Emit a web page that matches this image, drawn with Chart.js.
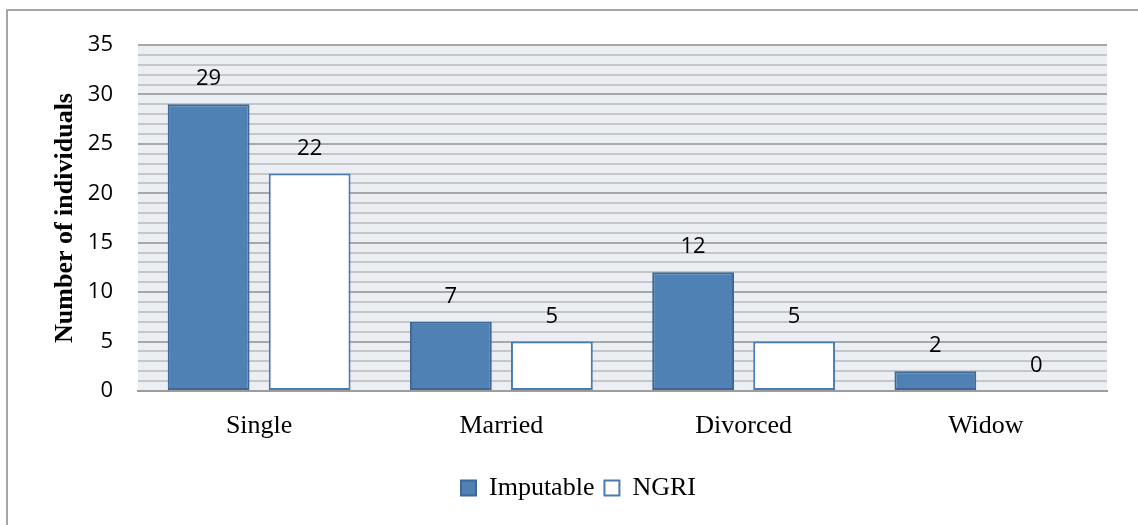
<!DOCTYPE html>
<html>
<head>
<meta charset="utf-8">
<script src="https://cdn.jsdelivr.net/npm/chart.js@4.4.0/dist/chart.umd.min.js"></script>
<style>
  html, body { margin: 0; padding: 0; background: #fff; overflow: hidden; }
  #frame { position: absolute; left: 6px; top: 9px; width: 1300px; height: 700px; border-left: 2px solid #a6a6a6; border-top: 2px solid #a6a6a6; }
  #wrap { position: absolute; left: 0; top: 0; width: 1138px; height: 525px; }
</style>
</head>
<body>
<div id="frame"></div>
<div id="wrap"><canvas id="grafico"></canvas></div>
<script>
// Dados
var categorias = ['Single', 'Married', 'Divorced', 'Widow']
var imputable = [29, 7, 12, 2]
var ngri = [22, 5, 5, 0]
var yMax = 35

// fundo cinza da área do gráfico
var fundoPlugin = {
    id: 'fundo',
    beforeDraw(chart) {
        let a = chart.chartArea
        let ctx = chart.ctx
        ctx.save()
        ctx.fillStyle = '#ebeef3'
        ctx.fillRect(a.left, a.top, a.right - a.left, a.bottom - a.top)
        ctx.restore()
    }
}

// rótulos com os valores acima das barras
var rotulosPlugin = {
    id: 'rotulos',
    afterDatasetsDraw(chart) {
        let ctx = chart.ctx
        ctx.save()
        ctx.font = '22px "Open Sans"'
        ctx.fillStyle = '#000'
        ctx.textAlign = 'center'
        ctx.textBaseline = 'alphabetic'
        chart.data.datasets.forEach((ds, i) => {
            chart.getDatasetMeta(i).data.forEach((bar, j) => {
                ctx.fillText(ds.data[j], bar.x, bar.y - 19)
            })
        })
        ctx.restore()
    }
}

var chart = new Chart(document.getElementById('grafico').getContext('2d'), {
    type: 'bar',
    data: {
        labels: categorias,
        datasets: [{
            label: 'Imputable',
            data: imputable,
            backgroundColor: '#5081b5',
            borderColor: '#3c6897',
            borderWidth: 2,
            borderSkipped: false
        }, {
            label: 'NGRI',
            data: ngri,
            backgroundColor: '#ffffff',
            borderColor: '#4a7bb0',
            borderWidth: 2,
            borderSkipped: false
        }]
    },
    options: {
        responsive: true,
        maintainAspectRatio: false,
        animation: false,
        layout: { padding: { left: 50, top: 45, right: 31, bottom: 14 } },
        datasets: { bar: { categoryPercentage: 0.834, barPercentage: 0.81 } },
        plugins: {
            tooltip: { enabled: false },
            legend: {
                position: 'bottom',
                labels: {
                    font: { family: '"Liberation Serif"', size: 26 },
                    color: '#000',
                    boxWidth: 15,
                    boxHeight: 15,
                    padding: 10
                }
            }
        },
        scales: {
            x: {
                grid: { display: false, drawTicks: false },
                border: { display: true, color: '#9c9c9c', width: 2 },
                ticks: { font: { family: '"Liberation Serif"', size: 26 }, color: '#000', padding: 20 },
                afterFit(scale) { scale.height = 74 }
            },
            y: {
                min: 0,
                max: yMax,
                border: { display: false },
                grid: {
                    drawTicks: false,
                    color: (c) => c.tick && c.tick.value % 5 === 0 ? '#a8a8a8' : '#c6c6c6',
                    lineWidth: 2
                },
                ticks: {
                    stepSize: 1,
                    autoSkip: false,
                    padding: 25,
                    font: { family: '"Open Sans"', size: 22 },
                    color: '#000',
                    callback: (v) => v % 5 === 0 ? v : ''
                },
                title: {
                    display: true,
                    text: 'Number of individuals',
                    font: { family: '"Liberation Serif"', size: 26, weight: 'bold' },
                    color: '#000',
                    padding: { top: 0, bottom: 0 }
                },
                afterFit(scale) { scale.width = 88 }
            }
        }
    },
    plugins: [fundoPlugin, rotulosPlugin]
})
</script>
</body>
</html>
